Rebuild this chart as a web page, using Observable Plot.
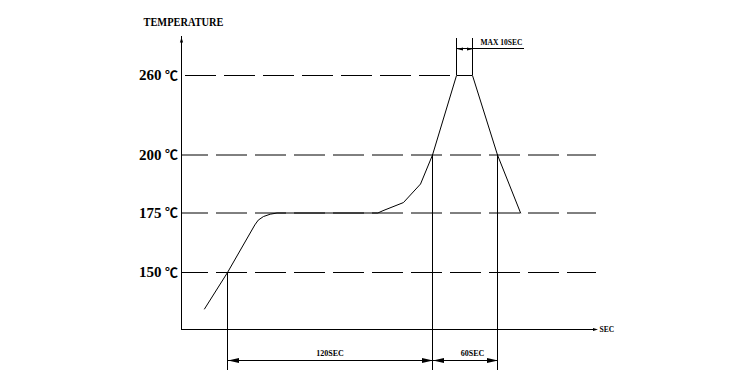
<!DOCTYPE html>
<html>
<head>
<meta charset="utf-8">
<script src="https://cdn.jsdelivr.net/npm/d3@7"></script>
<script src="https://cdn.jsdelivr.net/npm/@observablehq/plot@0.6"></script>
<style>
  body { margin: 0; background: #fff; }
</style>
</head>
<body>
<div id="chart"></div>
<script>
// Reflow soldering profile: temperature (°C) against time (s).
const profileTime = [30, 60, 76, 78, 81, 85, 89, 148, 151, 163, 173, 180, 200, 210, 240, 254];
const profileTemp = [134, 150, 170, 172, 173.5, 174.5, 175, 175, 176, 179.5, 187.5, 200, 260, 260, 200, 175];

// Temperature levels marked on the vertical axis
const tempLevels = [150, 175, 200, 260];
const tempUnit = "℃";
const peakTemp = 260;

// Time above the peak and the two dimensioned spans
const peakStart = 200;
const peakDuration = 10;
const spanStart = [60, 180];
const spanDuration = [120, 60];
// Temperature where the curve crosses each span edge (60 s, 180 s, 240 s)
const edgeTemp = [150, 200, 200];

const timeMax = 300;
const tempMin = 125;
const tempMax = 290;

const spans = spanStart.map((s, i) => ({start: s, dur: spanDuration[i], end: s + spanDuration[i]}));
const edges = [spans[0].start, spans[1].start, spans[1].end].map((t, i) => ({t, temp: edgeTemp[i]}));
const profile = profileTime.map((t, i) => ({t, temp: profileTemp[i]}));

// Filled arrowheads drawn as custom dot symbols (tip at the anchor point)
const headShape = (len, half, dir) => ({
  draw(ctx) {
    ctx.moveTo(0, 0);
    ctx.lineTo(-dir * len, -half);
    ctx.lineTo(-dir * len, half);
    ctx.closePath();
  }
});
const headUp = {
  draw(ctx) {
    ctx.moveTo(0, 0);
    ctx.lineTo(-1.6, 5);
    ctx.lineTo(1.6, 5);
    ctx.closePath();
  }
};

const font = "'Liberation Serif', 'Noto Sans CJK SC', serif";
const ink = "black";

const heads = [];
spans.forEach(s => {
  heads.push({t: s.start, dir: -1});
  heads.push({t: s.end, dir: 1});
});

const chart = Plot.plot({
  width: 745,
  height: 378,
  marginTop: 0, marginRight: 0, marginBottom: 0, marginLeft: 0,
  style: {background: "#fff", color: ink},
  x: {type: "linear", domain: [0, 60, 180, 200, 210, 240, timeMax], range: [181, 227, 432, 456, 472, 497, 596], axis: null},
  y: {type: "linear", domain: [tempMin, 150, 175, 200, 260, tempMax], range: [329, 272, 212.5, 154.5, 75, 36], axis: null},
  marks: [
    // dashed temperature guides
    Plot.ruleY(tempLevels.filter(d => d !== peakTemp), {y: d => d, x1: () => 0, x2: () => timeMax, stroke: ink, strokeWidth: 1, strokeDasharray: "31,8", strokeDashoffset: 4}),
    Plot.ruleY([peakTemp], {y: d => d, x1: () => 0, x2: () => peakStart, stroke: ink, strokeWidth: 1, strokeDasharray: "31,8", strokeDashoffset: 35}),

    // axes
    Plot.ruleX([0], {x: d => d, y1: () => tempMax, y2: () => tempMin, stroke: ink, strokeWidth: 1}),
    Plot.ruleY([tempMin], {y: d => d, x1: () => 0, x2: () => timeMax, stroke: ink, strokeWidth: 1}),
    Plot.dot([0], {x: d => d, y: () => tempMax, symbol: headUp, fill: ink, stroke: "none", dy: 1}),
    Plot.dot([timeMax], {x: d => d, y: () => tempMin, symbol: headShape(5, 1.6, 1), fill: ink, stroke: "none", dx: 1.5}),

    // axis labels
    Plot.text(["TEMPERATURE"], {x: () => 0, y: () => tempMax, text: d => d, dx: -38, dy: -14, textAnchor: "start", fontSize: 12, fontWeight: "bold", fontFamily: font, fill: ink}),
    Plot.text(["SEC"], {x: () => timeMax, y: () => tempMin, text: d => d, dx: 3, textAnchor: "start", fontSize: 7.5, fontWeight: "bold", fontFamily: font, fill: ink}),
    Plot.text(tempLevels, {x: () => 0, y: d => d, text: d => `${d}`, dx: -20, textAnchor: "end", fontSize: 15, fontWeight: "bold", fontFamily: font, fill: ink}),
    Plot.text(tempLevels, {x: () => 0, y: d => d, text: () => tempUnit, dx: -3.5, textAnchor: "end", fontSize: 13, fontWeight: "bold", fontFamily: font, fill: ink}),

    // extension lines for the time spans
    Plot.ruleX(edges, {x: "t", y1: "temp", y2: () => tempMin, insetBottom: -41, stroke: ink, strokeWidth: 1}),
    Plot.ruleX([peakStart, peakStart + peakDuration], {x: d => d, y1: () => peakTemp, y2: () => peakTemp, insetTop: -37, stroke: ink, strokeWidth: 1}),

    // dimension lines with arrowheads
    Plot.ruleY(spans, {y: () => tempMin, x1: "start", x2: "end", dy: 31, stroke: ink, strokeWidth: 1}),
    Plot.dot(heads.filter(h => h.dir < 0), {x: "t", y: () => tempMin, dy: 31, dx: 0.5, symbol: headShape(11, 2.5, -1), fill: ink, stroke: "none"}),
    Plot.dot(heads.filter(h => h.dir > 0), {x: "t", y: () => tempMin, dy: 31, dx: 0.5, symbol: headShape(11, 2.5, 1), fill: ink, stroke: "none"}),
    Plot.text(spans, {x: d => d.start + d.dur / 2, y: () => tempMin, dy: 23.5, text: d => `${d.dur}SEC`, fontSize: 8, fontWeight: "bold", fontFamily: font, fill: ink}),

    // time above peak
    Plot.ruleY([peakTemp], {y: d => d, x1: () => peakStart, x2: () => peakStart + peakDuration, insetRight: -52, dy: -27, stroke: ink, strokeWidth: 1}),
    Plot.dot([peakStart], {x: d => d, y: () => peakTemp, dy: -26.5, dx: 0.5, symbol: headShape(6, 1.5, -1), fill: ink, stroke: "none"}),
    Plot.dot([peakStart + peakDuration], {x: d => d, y: () => peakTemp, dy: -26.5, dx: 0.5, symbol: headShape(6, 1.5, 1), fill: ink, stroke: "none"}),
    Plot.text([peakDuration], {x: () => peakStart + peakDuration, y: () => peakTemp, dx: 8, dy: -33, text: d => `MAX ${d}SEC`, textAnchor: "start", fontSize: 7.5, fontWeight: "bold", fontFamily: font, fill: ink}),

    // the profile curve
    Plot.line(profile, {x: "t", y: "temp", stroke: ink, strokeWidth: 1})
  ]
});

// condensed title lettering
d3.select(chart).selectAll("text")
  .filter(function () { return this.textContent === "TEMPERATURE"; })
  .attr("textLength", 80)
  .attr("lengthAdjust", "spacingAndGlyphs");

document.getElementById("chart").appendChild(chart);
</script>
</body>
</html>
